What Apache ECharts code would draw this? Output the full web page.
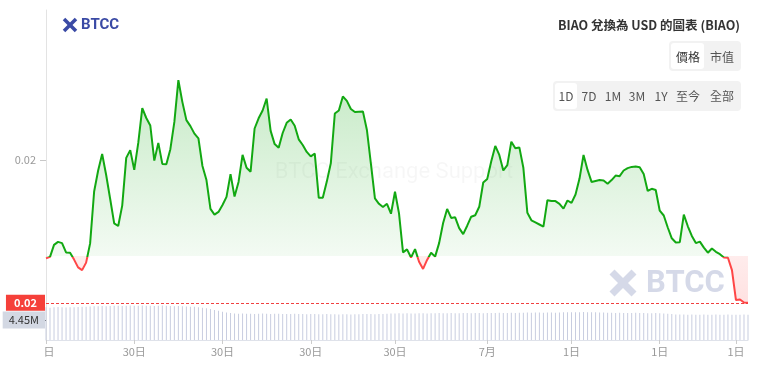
<!DOCTYPE html>
<html><head><meta charset="utf-8">
<script src="https://cdn.jsdelivr.net/npm/echarts@6/dist/echarts.min.js"></script>
<style>html,body{margin:0;padding:0;background:#fff}#c{width:764px;height:374px}</style>
</head><body><div id="c"></div>
<script>
// ---- data ----
const prices = [
 0.019672, 0.019677, 0.019717, 0.019727, 0.019723, 0.019692, 0.019691, 0.019668, 0.019642, 0.019633,
 0.019658, 0.019722, 0.019895, 0.019965, 0.020020, 0.019950, 0.019870, 0.019789, 0.019780, 0.019848,
 0.020007, 0.020033, 0.019967, 0.020057, 0.020173, 0.020140, 0.020115, 0.019998, 0.020057, 0.019987,
 0.019986, 0.020036, 0.020127, 0.020266, 0.020193, 0.020133, 0.020113, 0.020088, 0.020072, 0.019980,
 0.019933, 0.019837, 0.019818, 0.019827, 0.019850, 0.019877, 0.019953, 0.019878, 0.019927, 0.020017,
 0.019974, 0.019961, 0.020105, 0.020139, 0.020165, 0.020205, 0.020097, 0.020053, 0.020041, 0.020090,
 0.020124, 0.020135, 0.020114, 0.020069, 0.020050, 0.020027, 0.020012, 0.020021, 0.019874, 0.019874,
 0.019928, 0.019989, 0.020155, 0.020165, 0.020212, 0.020197, 0.020170, 0.020160, 0.020161, 0.020162,
 0.020100, 0.019987, 0.019872, 0.019854, 0.019843, 0.019854, 0.019821, 0.019894, 0.019822, 0.019692,
 0.019702, 0.019675, 0.019703, 0.019661, 0.019637, 0.019667, 0.019691, 0.019678, 0.019723, 0.019790,
 0.019837, 0.019807, 0.019809, 0.019773, 0.019753, 0.019781, 0.019811, 0.019816, 0.019844, 0.019925,
 0.019937, 0.019996, 0.020047, 0.020017, 0.019965, 0.019983, 0.020061, 0.020039, 0.020042, 0.019974,
 0.019824, 0.019799, 0.019792, 0.019785, 0.019778, 0.019866, 0.019863, 0.019863, 0.019854, 0.019838,
 0.019865, 0.019857, 0.019885, 0.019938, 0.020017, 0.019967, 0.019927, 0.019930, 0.019933, 0.019932,
 0.019921, 0.019933, 0.019948, 0.019946, 0.019965, 0.019973, 0.019977, 0.019978, 0.019976, 0.019953,
 0.019897, 0.019904, 0.019900, 0.019831, 0.019815, 0.019775, 0.019739, 0.019725, 0.019726, 0.019818,
 0.019779, 0.019747, 0.019723, 0.019728, 0.019708, 0.019691, 0.019705, 0.019694, 0.019686, 0.019675,
 0.019674, 0.019633, 0.019533, 0.019535, 0.019525, 0.019524
];
// volume in millions
const volumes = [
 7.3, 7.2, 7.3, 7.35, 7.3, 7.25, 7.3, 7.3, 7.35, 7.4, 7.4,
 7.45, 7.5, 7.5, 7.55, 7.5, 7.55, 7.6, 7.6, 7.55, 7.6,
 7.65, 7.6, 7.6, 7.65, 7.6, 7.6, 7.55, 7.6, 7.65, 7.6,
 7.55, 7.5, 7.55, 7.5, 7.45, 7.4, 7.4, 7.3,
 7.2, 7.05, 6.9, 6.7, 6.5, 6.3, 6.1, 6.0,
 5.9, 5.85, 5.9, 5.85, 5.85, 5.8, 5.85, 5.9, 5.85, 5.8, 5.85, 5.85, 5.8, 5.8,
 5.8, 5.85, 5.8, 5.8, 5.75, 5.8, 5.8, 5.75, 5.75, 5.8, 5.75, 5.75, 5.7, 5.75, 5.75, 5.7, 5.75, 5.75, 5.8, 5.8, 5.8, 5.75, 5.8, 5.8, 5.85,
 5.9, 5.9, 5.95, 5.9, 5.95, 5.9, 5.9, 5.95, 5.95, 5.9, 5.95, 5.95, 6.0, 5.95, 5.95, 6.0, 5.95, 5.95, 6.0, 6.0, 5.95, 6.0, 6.0, 5.95, 6.0,
 6.0, 6.0, 6.05, 6.0, 6.0, 6.05, 6.0, 6.05, 6.05, 6.1, 6.05, 6.1, 6.1, 6.05, 6.1, 6.1, 6.05, 6.1, 6.15, 6.15, 6.2, 6.2, 6.2, 6.25, 6.2, 6.2, 6.15, 6.1, 6.1, 6.05,
 6.05, 6.0, 6.05, 6.0, 6.0, 6.0, 6.05, 6.0, 6.0, 5.95, 5.95, 6.0, 5.95, 5.9, 5.85, 5.8, 5.7, 5.65, 5.65, 5.6, 5.65, 5.6, 5.6, 5.65, 5.6, 5.6, 5.65, 5.6, 5.6, 5.65, 5.6, 5.6, 5.6, 5.65, 5.6
];
const openPrice = 0.019680;
const tickIdx = [0, 22, 44, 66, 87, 110, 131, 153, 172];
const tickLabels = ['1日', '30日', '30日', '30日', '30日', '7月', '1日', '1日', '1日'];
const priceAxisLabels = [0.02];
const volumeAxisLabels = [4.45];
const titleText = 'BIAO 兌換為 USD 的圖表 (BIAO)';
const modeButtons = ['價格', '市值'];
const rangeButtons = ['1D', '7D', '1M', '3M', '1Y', '至今', '全部'];

// ---- build ----
const lastPrice = prices[prices.length - 1];
const maxP = Math.max.apply(null, prices), minP = Math.min.apply(null, prices);
const splitOff = (maxP - openPrice) / (maxP - minP); // open price position inside the line's bounding box
const categories = prices.map((_, i) => String(i));
const labelMap = {};
tickIdx.forEach((t, k) => { labelMap[String(t)] = tickLabels[k]; });
const showTick = (i) => tickIdx.indexOf(i) >= 0;
const upArea = prices.map(v => Math.max(v, openPrice));
const downArea = prices.map(v => Math.min(v, openPrice));

const GREEN = '#12a812', RED = '#ff4646';
const CJK = '"Noto Sans CJK TC", "Noto Sans", sans-serif';

function txt(x, y, text, font, fill, align, z) {
  return { type: 'text', z: z == null ? 50 : z, style: { x, y, text, font, fill, align: align || 'center', textAlign: align || 'center', verticalAlign: 'middle', textVerticalAlign: 'middle' } };
}
function xIcon(x, y, s, w, color, z) {
  return { type: 'group', z: z, children: [
    { type: 'line', z: z, shape: { x1: x, y1: y, x2: x + s, y2: y + s }, style: { stroke: color, lineWidth: w } },
    { type: 'line', z: z, shape: { x1: x + s, y1: y, x2: x, y2: y + s }, style: { stroke: color, lineWidth: w } }
  ]};
}
const graphics = [
  txt(394, 172, 'BTCC Exchange Support', '22px Roboto, sans-serif', 'rgba(0,0,0,0.035)', 'center', 1),
  xIcon(612, 272, 22, 7, '#d5d9e8', 1),
  txt(646, 284, 'BTCC', 'bold 31px Roboto, sans-serif', '#d5d9e8', 'left', 1),
  xIcon(64, 19, 12, 3.5, '#3a4aa5', 50),
  txt(81, 25, 'BTCC', 'bold 15px Roboto, sans-serif', '#3a4aa5', 'left'),
  txt(740, 25, titleText, 'bold 12.5px ' + CJK, '#333', 'right'),
  { type: 'rect', z: 40, shape: { x: 669, y: 41, width: 72, height: 30, r: 4 }, style: { fill: '#f2f2f2' } },
  { type: 'rect', z: 41, shape: { x: 671, y: 43, width: 33, height: 26, r: 3 }, style: { fill: '#fff' } },
  txt(688, 57, modeButtons[0], '12px ' + CJK, '#333'),
  txt(722, 57, modeButtons[1], '12px ' + CJK, '#555'),
  { type: 'rect', z: 40, shape: { x: 553, y: 81, width: 188, height: 30, r: 4 }, style: { fill: '#f2f2f2' } },
  { type: 'rect', z: 41, shape: { x: 555, y: 83, width: 22, height: 26, r: 3 }, style: { fill: '#fff' } },
  { type: 'rect', z: 100, shape: { x: 0, y: 342, width: 45, height: 22 }, style: { fill: '#fff' } }
];
const rangeX = [566, 589, 613, 637, 661, 688, 722];
rangeButtons.forEach((b, i) => graphics.push(txt(rangeX[i], 96, b, '12px ' + CJK, '#555')));

const chart = echarts.init(document.getElementById('c'), null, { renderer: 'canvas' });
chart.setOption({
  animation: false,
  backgroundColor: '#fff',
  textStyle: { fontFamily: CJK },
  grid: [
    { left: 46, right: 16, top: 10, height: 300, outerBoundsMode: 'none' },
    { left: 46, right: 16, top: 300, height: 40, outerBoundsMode: 'none' }
  ],
  xAxis: [
    { gridIndex: 0, type: 'category', data: categories, boundaryGap: false, show: false },
    { gridIndex: 1, type: 'category', data: categories, boundaryGap: false,
      axisLine: { lineStyle: { color: '#dfe2ea' } },
      axisTick: { interval: (i) => showTick(i), length: 4, lineStyle: { color: '#ccc' } },
      axisLabel: { interval: (i) => showTick(i), formatter: (v) => labelMap[v] || '', color: '#999', fontSize: 11, margin: 6 },
      splitLine: { show: false } }
  ],
  yAxis: [
    { gridIndex: 0, type: 'value', min: 0.0195, max: 0.0205, position: 'left',
      splitLine: { show: false },
      axisLine: { show: true, lineStyle: { color: '#e3e3e3' } },
      axisTick: { show: true, customValues: priceAxisLabels, length: 6, lineStyle: { color: '#c8c8c8' } },
      axisLabel: { customValues: priceAxisLabels, formatter: (v) => v.toFixed(2), color: '#999', fontSize: 11, margin: 10 } },
    { gridIndex: 1, type: 'value', min: 0, max: 8.9, position: 'left',
      splitLine: { show: false },
      axisLine: { show: true, lineStyle: { color: '#e3e3e3' } },
      axisTick: { show: true, customValues: volumeAxisLabels, length: 3, lineStyle: { color: '#333' } },
      axisLabel: { customValues: volumeAxisLabels, formatter: (v) => v.toFixed(2) + 'M', color: '#333', fontSize: 11,
        backgroundColor: '#d3d8e3', padding: [3, 6, 3, 6], margin: 1 } }
  ],
  series: [
    { name: 'upArea', type: 'line', xAxisIndex: 0, yAxisIndex: 0, data: upArea, symbol: 'none', silent: true, z: 1,
      lineStyle: { width: 0, opacity: 0 },
      areaStyle: { origin: openPrice, opacity: 1, color: { type: 'linear', x: 0, y: 0, x2: 0, y2: 1,
        colorStops: [{ offset: 0, color: 'rgba(20,168,20,0.24)' }, { offset: 1, color: 'rgba(20,168,20,0.05)' }] } } },
    { name: 'downArea', type: 'line', xAxisIndex: 0, yAxisIndex: 0, data: downArea, symbol: 'none', silent: true, z: 1,
      lineStyle: { width: 0, opacity: 0 },
      areaStyle: { origin: openPrice, opacity: 1, color: { type: 'linear', x: 0, y: 0, x2: 0, y2: 1,
        colorStops: [{ offset: 0, color: 'rgba(255,70,70,0.10)' }, { offset: 1, color: 'rgba(255,70,70,0.16)' }] } } },
    { name: 'price', type: 'line', xAxisIndex: 0, yAxisIndex: 0, data: prices, symbol: 'none', z: 3,
      lineStyle: { width: 2, color: { type: 'linear', x: 0, y: 0, x2: 0, y2: 1,
        colorStops: [{ offset: 0, color: GREEN }, { offset: splitOff, color: GREEN }, { offset: splitOff, color: RED }, { offset: 1, color: RED }] } } },
    { name: 'lastMark', type: 'line', xAxisIndex: 0, yAxisIndex: 0, data: [], z: 4, color: '#f04040',
      markLine: { silent: true, symbol: ['none', 'none'], animation: false, precision: 8,
        lineStyle: { color: '#f04040', type: [3, 2], width: 1, opacity: 1 },
        emphasis: { disabled: true },
        label: { position: 'start', distance: 1, formatter: () => lastPrice.toFixed(2), color: '#fff', fontWeight: 'bold', fontSize: 11,
          backgroundColor: '#f5403a', padding: [3, 8, 2, 8] },
        data: [{ yAxis: lastPrice }] } },
    { name: 'volume', type: 'bar', xAxisIndex: 1, yAxisIndex: 1, data: volumes, barWidth: 1, silent: true,
      itemStyle: { color: '#c8cde0' } }
  ],
  graphic: graphics
});
</script></body></html>
